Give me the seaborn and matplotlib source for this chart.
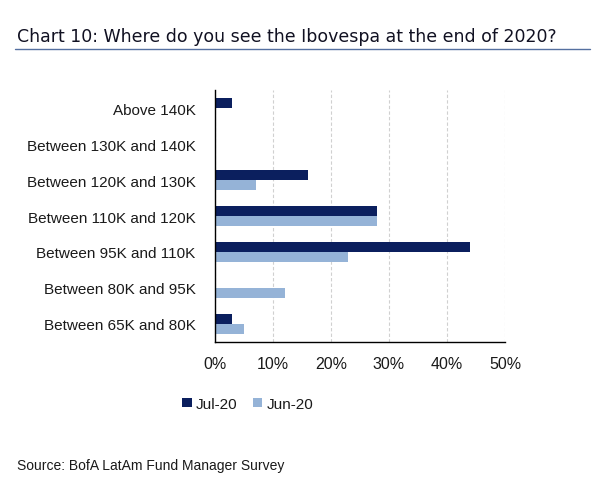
import matplotlib
matplotlib.use("Agg")
import matplotlib.pyplot as plt
import seaborn as sns
import pandas as pd
import numpy as np

categories = ["Above 140K", "Between 130K and 140K", "Between 120K and 130K",
              "Between 110K and 120K", "Between 95K and 110K", "Between 80K and 95K",
              "Between 65K and 80K"]
jul20 = [3, 0, 16, 28, 44, 0, 3]
jun20 = [0, 0, 7, 28, 23, 12, 5]
series_names = ["Jul-20", "Jun-20"]
xticks = [0, 10, 20, 30, 40, 50]

sns.set_style("white")
plt.rcParams['font.family'] = ['Liberation Sans', 'DejaVu Sans']

df = pd.DataFrame({
    "category": categories * 2,
    "value": jul20 + jun20,
    "series": [series_names[0]] * len(categories) + [series_names[1]] * len(categories),
})

colors = {"Jul-20": "#0B1F5E", "Jun-20": "#95B3D7"}
text_color = "#1a1a1a"

fig = plt.figure(figsize=(6.05, 4.89), dpi=100)
ax = fig.add_axes([215/605, 1-343/489, 290/605, 252/489])
sns.barplot(data=df, y="category", x="value", hue="series", orient="h",
            palette=colors, order=categories, hue_order=series_names,
            width=0.58, ax=ax, saturation=1, legend=True, linewidth=0)

ax.set_xlim(0, 50)
ax.set_ylim(len(categories) - 0.5, -0.5)
ax.set_xticks(xticks)
ax.set_xticklabels([f"{v}%" for v in xticks], fontsize=11.5, color=text_color)
ax.set_yticks(np.arange(-0.5, len(categories), 1.0))
ax.set_yticklabels([])
ax.set_yticks(np.arange(len(categories)), minor=True)
ax.set_yticklabels(categories, minor=True, fontsize=11, color=text_color)
ax.tick_params(axis='y', which='minor', length=0, pad=14)
ax.tick_params(axis='y', which='major', length=5, width=1, color='black', direction='out')
ax.tick_params(axis='x', length=4, width=1, color='black', direction='out', pad=6)
ax.set_xlabel("")
ax.set_ylabel("")
for s in ["top", "right"]:
    ax.spines[s].set_visible(False)
for s in ["left", "bottom"]:
    ax.spines[s].set_color("black")
    ax.spines[s].set_linewidth(1)
ax.xaxis.grid(True, linestyle=(0, (3, 2)), color="#d0d0d0", linewidth=0.8)
ax.set_axisbelow(True)

handles, labels = ax.get_legend_handles_labels()
ax.get_legend().remove()
fig.legend(handles, labels, loc="center", bbox_to_anchor=(248/605, 1-405/489), ncol=2,
           frameon=False, fontsize=11, handlelength=0.6, handleheight=0.6,
           handletextpad=0.3, columnspacing=1.0, labelcolor=text_color)

fig.text(17/605, 1-37/489, "Chart 10: Where do you see the Ibovespa at the end of 2020?",
         fontsize=12.5, family=["DejaVu Sans"], color="#111122", va="center", ha="left")
fig.add_artist(plt.Line2D([15/605, 590/605], [1-50/489, 1-50/489], color="#5570A0", linewidth=1))
fig.text(17/605, 1-466/489, "Source: BofA LatAm Fund Manager Survey",
         fontsize=10, color=text_color, va="center", ha="left")

fig.savefig("out.png", dpi=100)
